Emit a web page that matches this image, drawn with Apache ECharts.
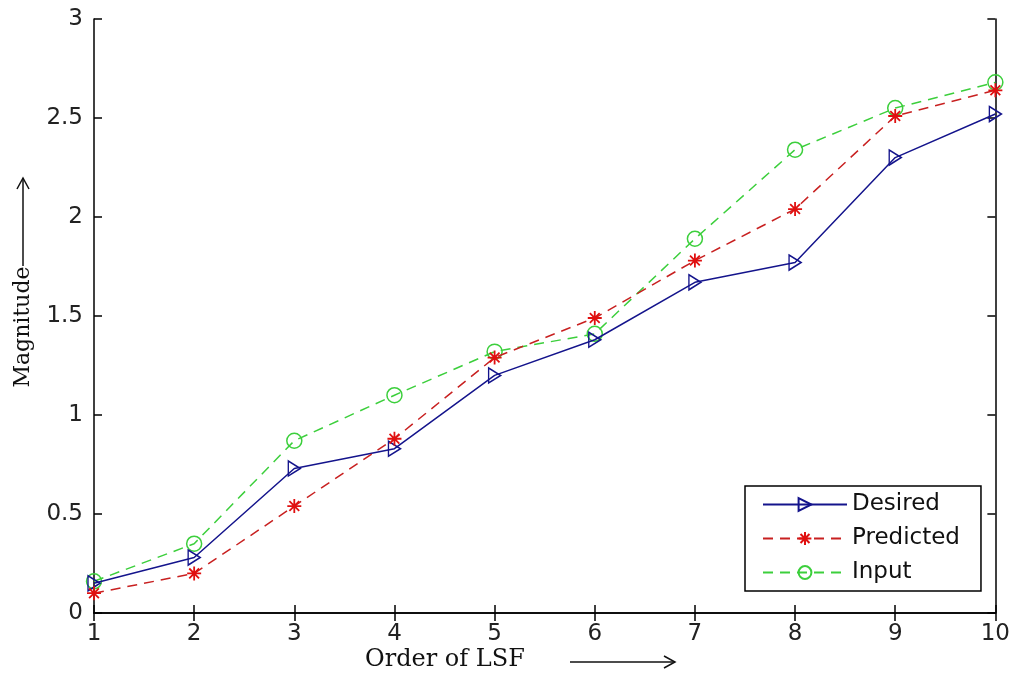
<!DOCTYPE html>
<html>
<head>
<meta charset="utf-8">
<script src="https://cdn.jsdelivr.net/npm/echarts@6/dist/echarts.min.js"></script>
<style>
  html, body { margin: 0; padding: 0; background: #fff; }
  #chart { width: 1013px; height: 675px; }
</style>
</head>
<body>
<div id="chart"></div>
<script>
// LSF order on x axis
const orders = [1, 2, 3, 4, 5, 6, 7, 8, 9, 10]
const desired = [0.15, 0.28, 0.73, 0.83, 1.20, 1.38, 1.67, 1.77, 2.30, 2.52]
const predicted = [0.10, 0.20, 0.54, 0.88, 1.29, 1.49, 1.78, 2.04, 2.51, 2.64]
const input = [0.16, 0.35, 0.87, 1.10, 1.32, 1.41, 1.89, 2.34, 2.55, 2.68]

const BLUE = '#14148c'
const RED = '#c82020'
const GREEN = '#3ccf3c'

function pairs (ys) {
    return orders.map((x, i) => [x, ys[i]])
}

const chart = echarts.init(document.getElementById('chart'))

// 坐标轴公共样式
const axisLine = { show: true, lineStyle: { color: '#000', width: 1.5 } }
const tickIn = { show: true, inside: true, length: 8, lineStyle: { color: '#000', width: 1.5 } }
const tickFont = { color: '#222', fontFamily: 'DejaVu Sans', fontSize: 23 }

const option = {
    animation: false,
    backgroundColor: '#fff',
    grid: { left: 94, right: 16, top: 19, bottom: 62 },
    xAxis: [
        {
            type: 'value', min: 1, max: 10, interval: 1,
            axisLine: axisLine, axisTick: tickIn,
            axisLabel: Object.assign({ margin: 10 }, tickFont),
            splitLine: { show: false }
        },
        {
            type: 'value', position: 'top', min: 1, max: 10, interval: 1,
            axisLine: axisLine, axisTick: tickIn,
            axisLabel: { show: false }, splitLine: { show: false }
        }
    ],
    yAxis: [
        {
            type: 'value', min: 0, max: 3, interval: 0.5,
            axisLine: axisLine, axisTick: tickIn,
            axisLabel: Object.assign({ margin: 11 }, tickFont),
            splitLine: { show: false }
        },
        {
            type: 'value', position: 'right', min: 0, max: 3, interval: 0.5,
            axisLine: axisLine, axisTick: tickIn,
            axisLabel: { show: false }, splitLine: { show: false }
        }
    ],
    legend: {
        orient: 'vertical',
        left: 745, top: 486,
        padding: [6, 21, 6, 17],
        itemGap: 9,
        itemWidth: 84,
        itemHeight: 16,
        backgroundColor: '#fff',
        borderColor: '#000',
        borderWidth: 1.5,
        textStyle: { color: '#111', fontFamily: 'DejaVu Sans', fontSize: 23, lineHeight: 25 },
        data: ['Desired', 'Predicted', 'Input']
    },
    series: [
        {
            name: 'Desired', type: 'line',
            data: pairs(desired),
            symbol: 'path://M0,0 L10,5 L0,10 Z', symbolSize: [12, 15],
            lineStyle: { color: BLUE, width: 1.5 },
            itemStyle: { color: 'rgba(255,255,255,0)', borderColor: BLUE, borderWidth: 1.5 },
            z: 3
        },
        {
            name: 'Predicted', type: 'line',
            data: pairs(predicted),
            symbol: 'path://M5,0 L5,10 M0,5 L10,5 M1.5,1.5 L8.5,8.5 M8.5,1.5 L1.5,8.5', symbolSize: 14,
            lineStyle: { color: RED, width: 1.5, type: [10, 7] },
            itemStyle: { color: 'rgba(255,255,255,0)', borderColor: '#e01010', borderWidth: 1.8 },
            z: 4
        },
        {
            name: 'Input', type: 'line',
            data: pairs(input),
            symbol: 'circle', symbolSize: 15,
            lineStyle: { color: GREEN, width: 1.5, type: [10, 7] },
            itemStyle: { color: 'rgba(255,255,255,0)', borderColor: GREEN, borderWidth: 1.5 },
            z: 2
        }
    ],
    graphic: [
        // x 轴标题 + 箭头
        {
            type: 'text', left: 365, top: 648,
            style: { text: 'Order of LSF', fontFamily: 'DejaVu Serif', fontSize: 24, fill: '#111' }
        },
        {
            type: 'line', shape: { x1: 570, y1: 662, x2: 675, y2: 662 },
            style: { stroke: '#111', lineWidth: 1.5 }
        },
        {
            type: 'polyline', shape: { points: [[664, 656], [675, 662], [664, 668]] },
            style: { stroke: '#111', lineWidth: 1.5, fill: null }
        },
        // y 轴标题 + 箭头
        {
            type: 'text', x: 23, y: 327, rotation: Math.PI / 2,
            style: {
                text: 'Magnitude', fontFamily: 'DejaVu Serif', fontSize: 22, fill: '#111',
                align: 'center', verticalAlign: 'middle'
            }
        },
        {
            type: 'line', shape: { x1: 23, y1: 266, x2: 23, y2: 178 },
            style: { stroke: '#111', lineWidth: 1.5 }
        },
        {
            type: 'polyline', shape: { points: [[17, 189], [23, 178], [29, 189]] },
            style: { stroke: '#111', lineWidth: 1.5, fill: null }
        }
    ]
}

chart.setOption(option)
</script>
</body>
</html>
